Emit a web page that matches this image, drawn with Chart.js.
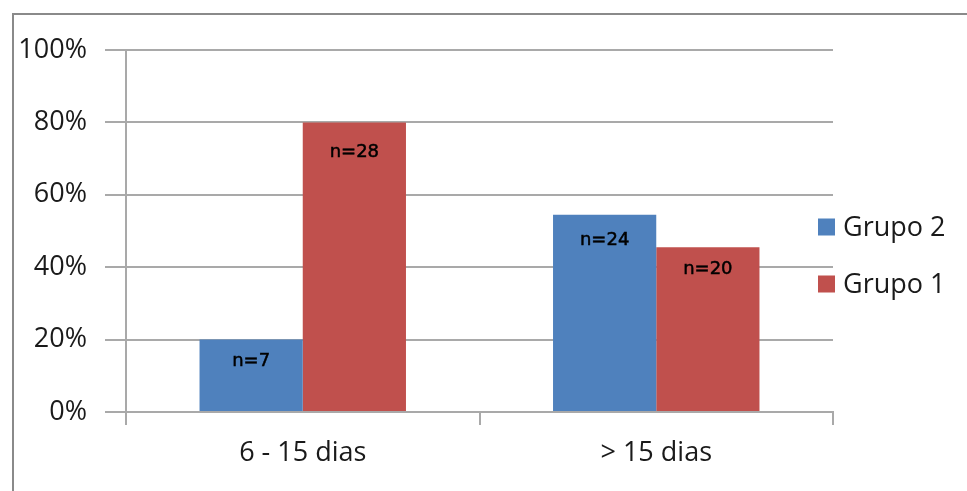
<!DOCTYPE html>
<html>
<head>
<meta charset="utf-8">
<script src="https://cdn.jsdelivr.net/npm/chart.js@4/dist/chart.umd.min.js"></script>
<style>
  html, body { margin: 0; padding: 0; background: #fff; }
  #wrap { width: 967px; height: 491px; position: relative; }
</style>
</head>
<body>
<div id="wrap"><canvas id="c" width="967" height="491"></canvas></div>
<script>
// Categories and series (share of each group within the period, in %)
const categories = ['6 - 15 dias', '> 15 dias'];
const seriesNames = ['Grupo 2', 'Grupo 1'];
const grupo2Pct = [20, 54.5];
const grupo1Pct = [80, 45.5];
// Patient counts shown inside the bars
const grupo2N = [7, 24];
const grupo1N = [28, 20];
const yTicks = [0, 20, 40, 60, 80, 100];

const FONT = 'Open Sans, Lato, sans-serif';
const GRID = '#a9a9a9';
const colors = ['#4F81BD', '#C0504D'];
const counts = [grupo2N, grupo1N];
// vertical distance of each count label below its bar top
const labelDrop = [[22, 26], [30, 22]];

const framePlugin = {
  id: 'frame',
  beforeDraw(chart) {
    const ctx = chart.ctx;
    ctx.save();
    ctx.fillStyle = '#fff';
    ctx.fillRect(0, 0, chart.width, chart.height);
    ctx.strokeStyle = '#8a8a8a';
    ctx.lineWidth = 2;
    ctx.strokeRect(13, 14, 2000, 2000);
    ctx.restore();
  }
};

const countLabels = {
  id: 'countLabels',
  afterDatasetsDraw(chart) {
    const ctx = chart.ctx;
    ctx.save();
    ctx.font = '18px "DejaVu Sans", sans-serif';
    ctx.fillStyle = '#000';
    ctx.strokeStyle = '#000';
    ctx.lineWidth = 0.5;
    ctx.textAlign = 'center';
    ctx.textBaseline = 'middle';
    chart.data.datasets.forEach((ds, di) => {
      chart.getDatasetMeta(di).data.forEach((bar, i) => {
        const t = 'n=' + counts[di][i];
        const y = bar.y + labelDrop[di][i];
        ctx.fillText(t, bar.x, y);
        ctx.strokeText(t, bar.x, y);
      });
    });
    ctx.restore();
  }
};

const sideLegend = {
  id: 'sideLegend',
  afterDraw(chart) {
    const ctx = chart.ctx;
    ctx.save();
    ctx.font = '27px ' + FONT;
    ctx.textBaseline = 'middle';
    ctx.textAlign = 'left';
    const rows = [227, 284];
    chart.data.datasets.forEach((ds, di) => {
      const cy = rows[di];
      ctx.fillStyle = ds.backgroundColor;
      ctx.fillRect(818, cy - 8.5, 17, 17);
      ctx.fillStyle = '#1a1a1a';
      ctx.fillText(ds.label, 843, cy + 1);
    });
    ctx.restore();
  }
};

new Chart(document.getElementById('c'), {
  type: 'bar',
  data: {
    labels: categories,
    datasets: [
      { label: seriesNames[0], data: grupo2Pct, backgroundColor: colors[0] },
      { label: seriesNames[1], data: grupo1Pct, backgroundColor: colors[1] }
    ]
  },
  options: {
    responsive: false,
    animation: false,
    devicePixelRatio: 1,
    layout: { padding: { left: 0, top: 50, right: 134, bottom: 0 } },
    categoryPercentage: 0.584,
    barPercentage: 1,
    plugins: { legend: { display: false }, tooltip: { enabled: false } },
    scales: {
      x: {
        afterFit(scale) { scale.height = 79; },
        grid: { display: true, drawOnChartArea: false, drawTicks: true, tickLength: 13, offset: true, color: GRID, lineWidth: 2 },
        border: { display: true, color: GRID, width: 2 },
        ticks: { font: { family: FONT, size: 27 }, color: '#1a1a1a', padding: 12 }
      },
      y: {
        min: 0, max: 100,
        afterFit(scale) { scale.width = 126; },
        afterBuildTicks(scale) { scale.ticks = yTicks.map(v => ({ value: v })); },
        grid: { color: GRID, lineWidth: 2, tickLength: 21, drawTicks: true },
        border: { display: true, color: GRID, width: 2 },
        ticks: { font: { family: FONT, size: 27 }, color: '#1a1a1a', padding: 18, callback: v => v + '%' }
      }
    }
  },
  plugins: [framePlugin, countLabels, sideLegend]
});
</script>
</body>
</html>
